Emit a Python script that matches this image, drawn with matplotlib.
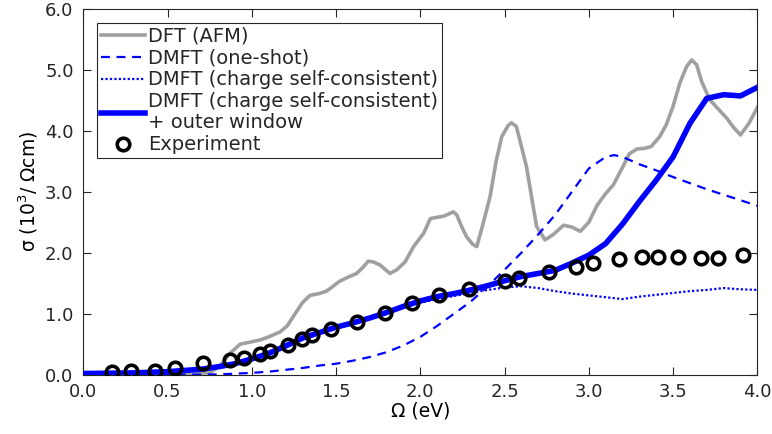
import matplotlib
matplotlib.use('Agg')
import matplotlib.pyplot as plt

# DFT (AFM)
dft_x = [0.0, 0.5, 0.75, 0.81, 0.87, 0.93, 1.0, 1.05, 1.1, 1.167, 1.21, 1.25, 1.30, 1.345,
         1.40, 1.444, 1.52, 1.58, 1.622, 1.66, 1.69, 1.72, 1.76, 1.82, 1.86, 1.91, 1.96, 2.02,
         2.06, 2.14, 2.196, 2.216, 2.25, 2.275, 2.31, 2.335, 2.37, 2.414, 2.45, 2.483, 2.52,
         2.54, 2.57, 2.63, 2.69, 2.74, 2.79, 2.85, 2.9, 2.95, 3.0, 3.05, 3.1, 3.145, 3.2, 3.24,
         3.285, 3.33, 3.37, 3.42, 3.46, 3.50, 3.54, 3.58, 3.61, 3.64, 3.67, 3.72, 3.77, 3.82,
         3.86, 3.90, 3.95, 4.0]
dft_y = [0.01, 0.01, 0.03, 0.14, 0.35, 0.50, 0.54, 0.57, 0.62, 0.70, 0.80, 0.97, 1.18, 1.30,
         1.33, 1.37, 1.53, 1.61, 1.66, 1.76, 1.86, 1.85, 1.80, 1.66, 1.72, 1.85, 2.10, 2.32,
         2.56, 2.60, 2.67, 2.62, 2.40, 2.26, 2.14, 2.10, 2.45, 2.92, 3.50, 3.90, 4.08,
         4.13, 4.07, 3.41, 2.43, 2.21, 2.30, 2.45, 2.42, 2.35, 2.50, 2.78, 2.97, 3.11, 3.40, 3.62,
         3.70, 3.71, 3.74, 3.90, 4.10, 4.40, 4.78, 5.05, 5.16, 5.08, 4.80, 4.50, 4.35, 4.20,
         4.05, 3.93, 4.12, 4.38]

# DMFT (one-shot)
oneshot_x = [0.0, 0.6, 0.8, 1.0, 1.1, 1.2, 1.3, 1.4, 1.5, 1.6, 1.7, 1.8, 1.9, 2.0, 2.1, 2.2,
             2.3, 2.4, 2.5, 2.6, 2.7, 2.8, 2.9, 3.0, 3.1, 3.15, 3.2, 3.3, 3.4, 3.5, 3.6, 3.7,
             3.8, 3.9, 4.0]
oneshot_y = [0.0, 0.0, 0.005, 0.03, 0.05, 0.08, 0.11, 0.15, 0.18, 0.23, 0.29, 0.37, 0.48, 0.62,
             0.80, 1.0, 1.2, 1.45, 1.72, 2.0, 2.3, 2.62, 3.0, 3.38, 3.57, 3.60, 3.57, 3.45, 3.35,
             3.24, 3.14, 3.04, 2.95, 2.86, 2.77]

# DMFT (charge self-consistent)
csc_x = [0.0, 0.3, 0.5, 0.6, 0.7, 0.8, 0.9, 1.0, 1.1, 1.2, 1.3, 1.4, 1.5, 1.6, 1.7, 1.8, 1.9,
         2.0, 2.1, 2.2, 2.3, 2.4, 2.5, 2.6, 2.7, 2.8, 2.9, 3.0, 3.1, 3.2, 3.3, 3.4, 3.5, 3.6,
         3.7, 3.8, 3.9, 4.0]
csc_y = [0.02, 0.03, 0.05, 0.07, 0.09, 0.13, 0.18, 0.25, 0.34, 0.46, 0.59, 0.68, 0.77, 0.84,
         0.92, 1.0, 1.1, 1.18, 1.24, 1.29, 1.34, 1.39, 1.43, 1.45, 1.42, 1.37, 1.33, 1.30,
         1.27, 1.24, 1.28, 1.31, 1.34, 1.37, 1.39, 1.42, 1.40, 1.39]

# DMFT (charge self-consistent) + outer window
outer_x = [0.0, 0.3, 0.5, 0.6, 0.7, 0.8, 0.9, 1.0, 1.1, 1.2, 1.3, 1.4, 1.5, 1.6, 1.7, 1.8,
           1.9, 2.0, 2.1, 2.2, 2.3, 2.4, 2.5, 2.6, 2.7, 2.8, 2.9, 3.0, 3.1, 3.2, 3.3, 3.4, 3.5,
           3.6, 3.7, 3.8, 3.9, 4.0]
outer_y = [0.02, 0.03, 0.05, 0.07, 0.09, 0.13, 0.18, 0.26, 0.35, 0.47, 0.60, 0.69, 0.78,
           0.85, 0.93, 1.02, 1.12, 1.21, 1.28, 1.33, 1.39, 1.46, 1.54, 1.61, 1.66, 1.71, 1.83,
           1.96, 2.15, 2.47, 2.84, 3.19, 3.57, 4.12, 4.53, 4.59, 4.57, 4.71]

# Experiment
exp_x = [0.172, 0.281, 0.427, 0.546, 0.712, 0.869, 0.954, 1.047, 1.110, 1.215, 1.296, 1.355,
         1.467, 1.623, 1.790, 1.95, 2.113, 2.291, 2.503, 2.588, 2.766, 2.922, 3.027, 3.179,
         3.314, 3.409, 3.528, 3.666, 3.769, 3.917]
exp_y = [0.04, 0.056, 0.066, 0.115, 0.187, 0.236, 0.279, 0.334, 0.393, 0.482, 0.580, 0.646,
         0.752, 0.864, 1.016, 1.17, 1.30, 1.40, 1.541, 1.590, 1.689, 1.770, 1.826, 1.897,
         1.934, 1.934, 1.934, 1.913, 1.913, 1.957]

plt.rcParams['font.family'] = ['DejaVu Sans']
plt.rcParams['font.size'] = 13
plt.rcParams['text.color'] = '#262626'

fig = plt.figure(figsize=(7.72, 4.34), dpi=100)
ax = fig.add_axes([0.1079, 0.1366, 0.8731, 0.8434])

blue = '#0000FF'
ax.plot(dft_x, dft_y, color='#A0A0A0', lw=2.6, label='DFT (AFM)')
ax.plot(oneshot_x, oneshot_y, color=blue, lw=1.6, ls=(0, (4, 3)), label='DMFT (one-shot)')
ax.plot(outer_x, outer_y, color=blue, lw=4.0,
        label='DMFT (charge self-consistent)\n+ outer window', zorder=3)
ax.plot(csc_x, csc_y, color=blue, lw=1.6, ls=(0, (1, 1)),
        label='DMFT (charge self-consistent)', zorder=3.5)
ax.plot(exp_x, exp_y, 'o', ms=9, mfc='none', mec='black', mew=2.6,
        label='Experiment', zorder=4)

ax.set_xlim(0, 4)
ax.set_ylim(0, 6)
ax.set_xticks([0.0, 0.5, 1.0, 1.5, 2.0, 2.5, 3.0, 3.5, 4.0])
ax.set_yticks([0, 1, 2, 3, 4, 5, 6])
ax.xaxis.set_major_formatter(matplotlib.ticker.FormatStrFormatter('%.1f'))
ax.yaxis.set_major_formatter(matplotlib.ticker.FormatStrFormatter('%.1f'))
ax.tick_params(direction='in', top=True, right=True, length=6, width=0.8,
               colors='#262626', labelsize=13)
ax.tick_params(axis='x', pad=6)
ax.tick_params(axis='y', pad=7)
for sp in ax.spines.values():
    sp.set_color('#262626')
    sp.set_linewidth(0.8)

ax.set_xlabel('Ω (eV)', fontsize=13.5, labelpad=0)
ax.set_ylabel('σ (10$^3$/ Ωcm)', fontsize=13.5, labelpad=4)

# Legend order matches reference
handles, labels = ax.get_legend_handles_labels()
order = [0, 1, 3, 2, 4]
leg = ax.legend([handles[i] for i in order], [labels[i] for i in order],
                loc='upper left', bbox_to_anchor=(0.02, 0.962), fontsize=14,
                handlelength=2.3, handletextpad=0.15, labelspacing=0.15,
                borderpad=0.2, borderaxespad=0, fancybox=False, framealpha=1)
for t in leg.get_texts():
    t.set_linespacing(1.15)
leg.get_frame().set_edgecolor('#262626')
leg.get_frame().set_linewidth(0.8)

fig.savefig('out.png', dpi=100)
